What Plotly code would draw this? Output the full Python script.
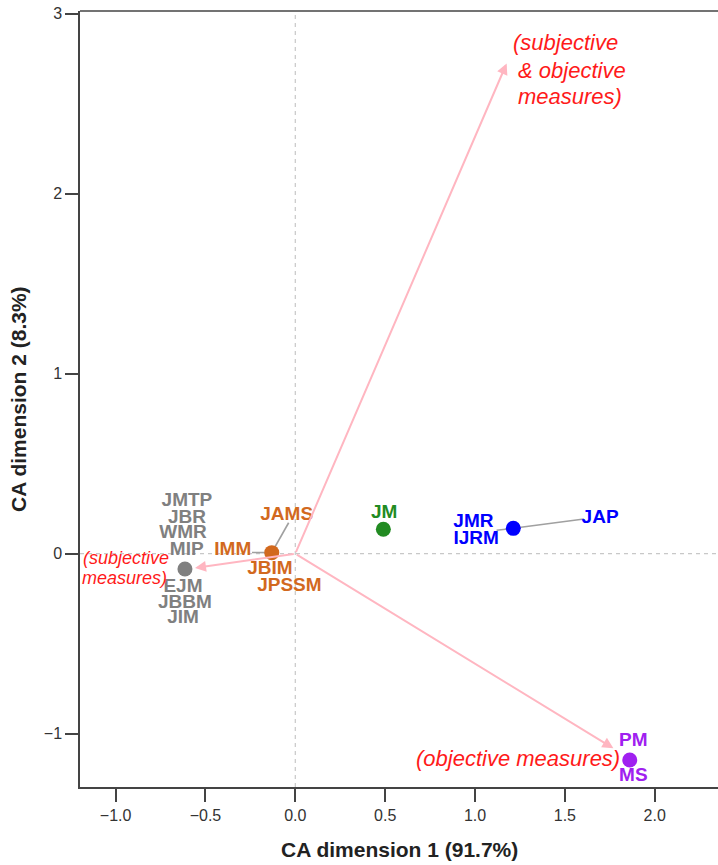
import plotly.graph_objects as go

# Row (group) coordinates of the correspondence analysis
group_names = ["grey", "orange", "green", "blue", "purple"]
group_colors = ["#808080", "#D2691E", "#228B22", "#0000FF", "#A020F0"]
group_x = [-0.614, -0.131, 0.490, 1.213, 1.861]
group_y = [-0.085, 0.006, 0.136, 0.141, -1.146]

# Journal labels placed around each group point
journal_labels = ["JMTP", "JBR", "WMR", "MIP", "EJM", "JBBM", "JIM",
                  "JAMS", "IMM", "JBIM", "JPSSM",
                  "JM",
                  "JMR", "IJRM", "JAP",
                  "PM", "MS"]
journal_group = [0, 0, 0, 0, 0, 0, 0,
                 1, 1, 1, 1,
                 2,
                 3, 3, 3,
                 4, 4]
journal_x = [-0.603, -0.603, -0.625, -0.604, -0.625, -0.614, -0.625,
             -0.048, -0.348, -0.141, -0.033,
             0.495,
             0.991, 1.006, 1.696,
             1.881, 1.881]
journal_y = [0.289, 0.198, 0.115, 0.021, -0.185, -0.274, -0.357,
             0.215, 0.021, -0.085, -0.179,
             0.224,
             0.174, 0.080, 0.197,
             -1.044, -1.239]

# Leader segments from a group point towards a displaced label
segment_group = [1, 1, 3, 3]
segment_end_x = [-0.037, -0.241, 1.606, 1.120]
segment_end_y = [0.172, 0.007, 0.193, 0.130]

# Column (measure type) arrows
measure_x = [1.176, -0.558, 1.770]
measure_y = [2.724, -0.079, -1.081]

# Measure captions: one entry per text line
caption_lines = ["(subjective", "& objective", "measures)",
                 "(subjective", "measures)",
                 "(objective measures)"]
caption_x = [1.501, 1.541, 1.526, -0.942, -0.953, 1.239]
caption_y = [2.838, 2.687, 2.539, -0.024, -0.135, -1.137]
caption_size = [22, 22, 22, 18, 18, 22]

x_ticks = [-1.0, -0.5, 0.0, 0.5, 1.0, 1.5, 2.0]
y_ticks = [-1, 0, 1, 2, 3]

fig = go.Figure()

# dashed reference lines through the origin
fig.add_shape(type="line", xref="paper", yref="y", x0=0, x1=1, y0=0, y1=0,
              line=dict(color="#c8c8c8", width=1.2, dash="4px,4px"), layer="below")
fig.add_shape(type="line", xref="x", yref="paper", x0=0, x1=0, y0=0, y1=1,
              line=dict(color="#c8c8c8", width=1.2, dash="4px,4px"), layer="below")

# leader segments
for g, ex, ey in zip(segment_group, segment_end_x, segment_end_y):
    fig.add_trace(go.Scatter(x=[group_x[g], ex], y=[group_y[g], ey], mode="lines",
                             line=dict(color="#a0a0a0", width=1.6),
                             hoverinfo="skip", showlegend=False))

# measure arrows from the origin
for mx, my in zip(measure_x, measure_y):
    fig.add_annotation(x=mx, y=my, ax=0, ay=0, xref="x", yref="y",
                       axref="x", ayref="y", text="", showarrow=True,
                       arrowhead=2, arrowsize=1.1, arrowwidth=2,
                       arrowcolor="#FFB6C1")

# group points
fig.add_trace(go.Scatter(x=group_x, y=group_y, mode="markers",
                         marker=dict(size=15, color=group_colors,
                                     line=dict(width=0)),
                         text=group_names, hoverinfo="text", showlegend=False))

# journal labels
fig.add_trace(go.Scatter(x=journal_x, y=journal_y, mode="text",
                         text=journal_labels,
                         textfont=dict(family="Liberation Sans, Arial, sans-serif",
                                       size=19,
                                       color=[group_colors[g] for g in journal_group],
                                       weight="bold"),
                         textposition="middle center",
                         hoverinfo="skip", showlegend=False))

# measure captions
for t, cx, cy, cs in zip(caption_lines, caption_x, caption_y, caption_size):
    fig.add_annotation(x=cx, y=cy, xref="x", yref="y", text="<i>" + t + "</i>",
                       showarrow=False, xanchor="center", yanchor="middle",
                       font=dict(family="Liberation Sans, Arial, sans-serif",
                                 size=cs, color="#FF1A1A"))

# top border of the frame
fig.add_shape(type="line", xref="paper", yref="paper", x0=0, x1=1, y0=1, y1=1,
              line=dict(color="#444444", width=1.5))

# axis titles
fig.add_annotation(x=0.5, y=-0.0799, xref="paper", yref="paper",
                   text="<b>CA dimension 1 (91.7%)</b>", showarrow=False,
                   xanchor="center", yanchor="middle",
                   font=dict(family="Liberation Sans, Arial, sans-serif", size=21, color="#222222"))
fig.add_annotation(x=-0.0972, y=0.5, xref="paper", yref="paper",
                   text="<b>CA dimension 2 (8.3%)</b>", showarrow=False, textangle=-90,
                   xanchor="center", yanchor="middle",
                   font=dict(family="Liberation Sans, Arial, sans-serif", size=21, color="#222222"))

fig.update_layout(
    width=718, height=865,
    margin=dict(l=80, r=0, t=11, b=78),
    paper_bgcolor="white", plot_bgcolor="white",
    font=dict(family="Liberation Sans, Arial, sans-serif", color="#333333"),
    xaxis=dict(range=[-1.198, 2.352], tickvals=x_ticks,
               ticktext=["\u22121.0", "\u22120.5", "0.0", "0.5", "1.0", "1.5", "2.0"],
               ticks="outside", ticklen=13, tickwidth=1.5, tickcolor="#444444",
               showline=True, linecolor="#444444", linewidth=1.5,
               showgrid=False, zeroline=False,
               tickfont=dict(size=16, color="#333333")),
    yaxis=dict(range=[-1.296, 3.015], tickvals=y_ticks,
               ticktext=["\u22121", "0", "1", "2", "3"],
               ticks="outside", ticklen=13, tickwidth=1.5, tickcolor="#444444",
               showline=True, linecolor="#444444", linewidth=1.5,
               showgrid=False, zeroline=False,
               tickfont=dict(size=16, color="#333333")),
)

fig.write_html("out.html")
